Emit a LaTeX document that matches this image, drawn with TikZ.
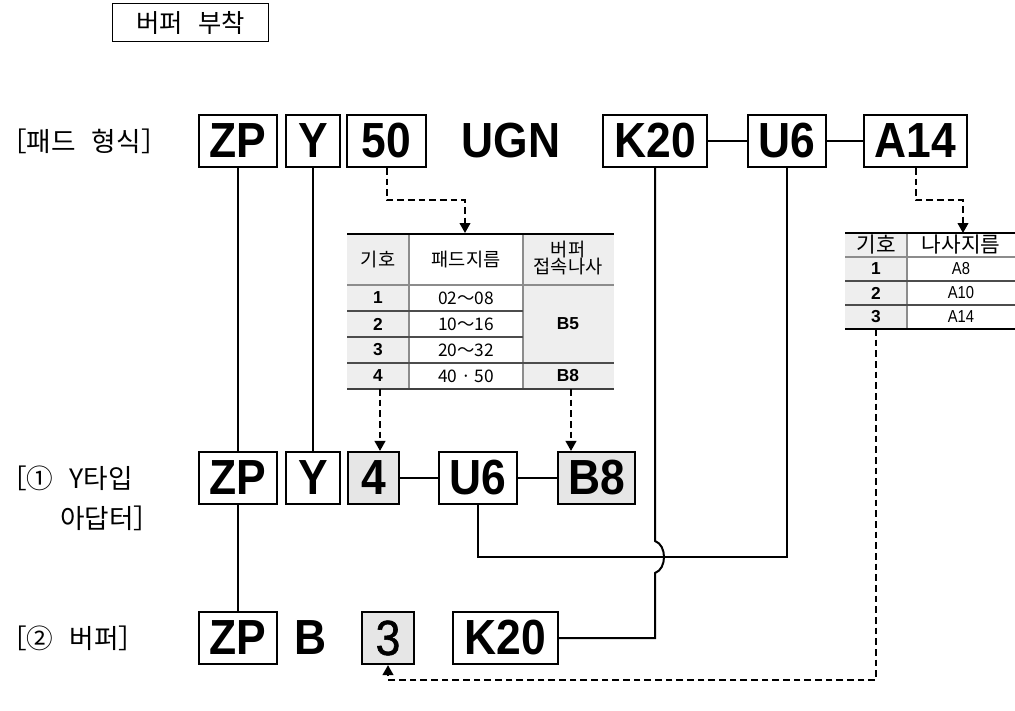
\documentclass[tikz,border=0pt]{standalone}
\usepackage{fontspec}
\setmainfont{Noto Sans CJK KR}
\newfontfamily\codefont[FakeStretch=0.9]{Liberation Sans}
\newfontfamily\codemid[FakeStretch=0.9,FakeBold=1.2]{Liberation Sans}
\newfontfamily\tabfont{Liberation Sans}
\newfontfamily\screwfont[FakeStretch=0.85]{Liberation Sans}
\usetikzlibrary{arrows.meta}
\definecolor{boxgray}{HTML}{E6E6E6}
\definecolor{cellgray}{HTML}{EEEEEE}
\definecolor{rulegray}{HTML}{8C8C8C}

\begin{document}
\begin{tikzpicture}[x=0.75pt,y=-0.75pt,
  codebox/.style={draw, line width=1.6pt, inner sep=0pt, minimum height=39pt,
    font=\codefont\bfseries\fontsize{37}{37}\selectfont},
  codetext/.style={inner sep=0pt, font=\codefont\bfseries\fontsize{37}{37}\selectfont},
  shaded/.style={fill=boxgray},
  rowlabel/.style={anchor=west, inner sep=0pt, font=\fontsize{20}{20}\selectfont},
  link/.style={line width=1.5pt},
  dashlink/.style={line width=1.5pt, dash pattern=on 5pt off 3pt,
    -{Triangle[width=8pt,length=7.5pt]}},
  headcell/.style={inner sep=0pt, align=center, font=\fontsize{14}{15}\selectfont},
  numcell/.style={inner sep=0pt, font=\tabfont\bfseries\fontsize{13}{13}\selectfont},
  valcell/.style={inner sep=0pt, font=\fontsize{13}{13}\selectfont},
  screwcell/.style={inner sep=0pt, font=\screwfont\fontsize{13}{13}\selectfont}]

\useasboundingbox (0,0) rectangle (1015,711);

% Titre
\node[draw, line width=1pt, inner sep=0pt, minimum width=117pt, minimum height=28.5pt,
  font=\fontsize{19}{19}\selectfont] (title) at (190.5,22.5) {버퍼\hspace{0.6em}부착};

% Libelles
\node[rowlabel] (lab1) at (0,141) {［패드\hspace{0.6em}형식］};
\node[rowlabel] (lab2) at (0,478) {［①\hspace{0.6em}Y타입};
\node[rowlabel] (lab2b) at (60,518) {아답터］};
\node[rowlabel] (lab3) at (0,638) {［②\hspace{0.6em}버퍼］};

% Ligne 1
\node[codebox, minimum width=58.5pt] (zp1) at (238,141) {ZP};
\node[codebox, minimum width=40.5pt] (y1) at (313,141) {Y};
\node[codebox, minimum width=59.25pt] (n50) at (386.5,141) {50};
\node[codetext] (ugn) at (511,141) {UGN};
\node[codebox, minimum width=78pt] (k1) at (655,141) {K20};
\node[codebox, minimum width=58.5pt] (u1) at (787,141) {U6};
\node[codebox, minimum width=77.25pt] (a1) at (915.5,141) {A14};

\draw[link] (k1.east) -- (u1.west);
\draw[link] (u1.east) -- (a1.west);

% Ligne 2
\node[codebox, minimum width=58.5pt] (zp2) at (238,478) {ZP};
\node[codebox, minimum width=40.5pt] (y2) at (313,478) {Y};
\node[codebox, shaded, minimum width=38.25pt] (d2) at (373.5,478) {4};
\node[codebox, minimum width=58.5pt] (u2) at (478,478) {U6};
\node[codebox, shaded, minimum width=57.75pt] (b2) at (596.5,478) {B8};

\draw[link] (d2.east) -- (u2.west);
\draw[link] (u2.east) -- (b2.west);

% Ligne 3
\node[codebox, minimum width=58.5pt] (zp3) at (238,638) {ZP};
\node[codetext] (btext) at (311,638) {B};
\node[codebox, shaded, minimum width=39pt, font=\codemid\fontsize{37}{37}\selectfont] (s3) at (388,638) {3};
\node[codebox, minimum width=78.75pt] (k3) at (505.5,638) {K20};

% Liaisons
\draw[link] (zp1.south) -- (zp2.north);
\draw[link] (zp2.south) -- (zp3.north);
\draw[link] (y1.south) -- (y2.north);

\coordinate (ujoin) at (787,557);
\draw[link] (u2.south) |- (ujoin) -- (u1.south);

\coordinate (hoptop) at (655,541);
\coordinate (hopbot) at (655,573);
\draw[link] (k1.south) -- (hoptop)
  .. controls (667,545) and (667,569) .. (hopbot) |- (k3.east);

% Tableau diametre
\fill[cellgray] (347,234) rectangle (409,389);
\fill[cellgray] (523,234) rectangle (614,389);
\draw[rulegray, line width=0.8pt] (409,234) -- (409,389) (523,234) -- (523,389);
\draw[rulegray, line width=0.8pt] (347,285) -- (614,285);
\foreach \y in {311,337}
  \draw[black!70, line width=0.8pt] (347,\y) -- (523,\y);
\draw[black!70, line width=0.8pt] (347,363) -- (614,363);
\draw[line width=1.6pt] (347,234) -- (614,234);
\draw[black!75, line width=1.4pt] (347,389) -- (614,389);

\node[headcell] (ph1) at (378,260) {기호};
\node[headcell] (ph2) at (466,260) {패드지름};
\node[headcell] (ph3) at (568,258) {버퍼\\[-2pt]접속나사};
\foreach \n/\v [count=\i] in {1/02～08, 2/10～16, 3/20～32, 4/40 · 50}
{
  \node[numcell] (pn\i) at (378,{272+26*\i}) {\n};
  \node[valcell] (pv\i) at (466,{272+26*\i}) {\v};
}
\node[numcell] (pb5) at (568,324) {B5};
\node[numcell] (pb8) at (568,376) {B8};

% Tableau vis
\fill[cellgray] (845,233) rectangle (907,329);
\draw[rulegray, line width=0.8pt] (907,233) -- (907,329);
\draw[rulegray, line width=0.8pt] (845,257) -- (1015,257);
\foreach \y in {281,305}
  \draw[black!70, line width=0.8pt] (845,\y) -- (1015,\y);
\draw[line width=1.6pt] (845,233) -- (1015,233);
\draw[line width=1.6pt] (845,329) -- (1015,329);

\node[headcell, font=\fontsize{16}{16}\selectfont] (sh1) at (876,245) {기호};
\node[headcell, font=\fontsize{16}{16}\selectfont] (sh2) at (961,245) {나사지름};
\foreach \n/\v [count=\i] in {1/A8, 2/A10, 3/A14}
{
  \node[numcell] (sn\i) at (876,{245+24*\i}) {\n};
  \node[screwcell] (sv\i) at (961,{245+24*\i}) {\v};
}

% Fleches
\coordinate (padtop) at (465,233);
\coordinate (screwtop) at (963,233);
\draw[dashlink] (n50.south) -- ++(0,32) -| (padtop);
\draw[dashlink] (a1.south) -- ++(0,32) -| (screwtop);

\coordinate (padsym) at (380,389);
\coordinate (padscrew) at (571,389);
\draw[dashlink] (padsym) -- (padsym |- d2.north);
\draw[dashlink] (padscrew) -- (padscrew |- b2.north);

\coordinate (screwbot) at (876,329);
\draw[dashlink] (screwbot) -- ++(0,351) -| (s3.south);

\end{tikzpicture}
\end{document}
